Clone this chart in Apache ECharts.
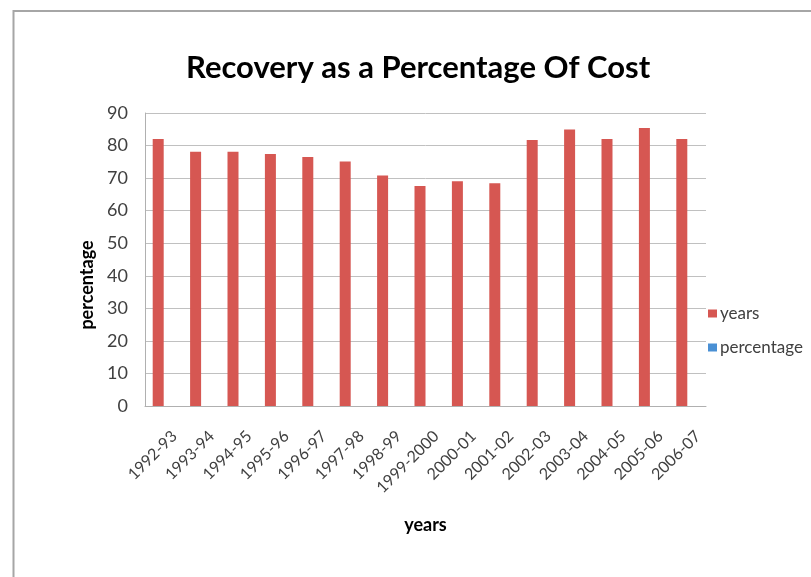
<!DOCTYPE html>
<html>
<head>
<meta charset="utf-8">
<script src="https://cdn.jsdelivr.net/npm/echarts@6/dist/echarts.min.js"></script>
<style>html,body{margin:0;padding:0;background:#fff;}#chart{width:811px;height:577px;}</style>
</head>
<body>
<div id="chart"></div>
<script>
const categories = ['1992-93','1993-94','1994-95','1995-96','1996-97','1997-98','1998-99','1999-2000','2000-01','2001-02','2002-03','2003-04','2004-05','2005-06','2006-07'];
const yearsValues = [82.0, 78.1, 78.1, 77.4, 76.5, 75.1, 70.8, 67.6, 69.0, 68.4, 81.7, 84.9, 82.0, 85.4, 82.0];
const percentageValues = [null, null, null, null, null, null, null, null, null, null, null, null, null, null, null];
const yTicks = [0, 10, 20, 30, 40, 50, 60, 70, 80, 90];

const chart = echarts.init(document.getElementById('chart'), null, {renderer: 'canvas'});
const FONT = 'Lato';
chart.setOption({
  animation: false,
  backgroundColor: '#ffffff',
  title: {
    text: 'Recovery as a Percentage Of Cost',
    left: 181,
    top: 47,
    textStyle: {fontFamily: FONT, fontSize: 31, fontWeight: 'bold', color: '#000000'}
  },
  legend: {
    orient: 'vertical',
    left: 703,
    top: 300,
    itemWidth: 9,
    itemHeight: 8,
    itemGap: 17,
    icon: 'rect',
    textStyle: {fontFamily: FONT, fontSize: 17, color: '#404040', padding: [0, 0, 0, -2]},
    data: ['years', 'percentage']
  },
  grid: {left: 145, right: 105, top: 113, bottom: 171, containLabel: false},
  xAxis: {
    type: 'category',
    data: categories,
    name: 'years',
    nameLocation: 'middle',
    nameGap: 110,
    nameTextStyle: {fontFamily: FONT, fontSize: 18, fontWeight: 'bold', color: '#000000'},
    axisLine: {lineStyle: {color: '#b0b0b0', width: 1}},
    axisTick: {show: false},
    axisLabel: {rotate: 45, fontFamily: FONT, fontSize: 16, color: '#404040', margin: 17, interval: 0, verticalAlign: 'top', padding: [7, 0, 0, 0]}
  },
  yAxis: {
    type: 'value',
    min: yTicks[0],
    max: yTicks[yTicks.length - 1],
    interval: 10,
    axisLine: {show: true, lineStyle: {color: '#b0b0b0', width: 1}},
    axisTick: {show: false},
    axisLabel: {fontFamily: FONT, fontSize: 18, color: '#404040', margin: 17},
    splitLine: {lineStyle: {color: '#c0c0c0', width: 1}}
  },
  series: [
    {name: 'years', type: 'bar', data: yearsValues, barWidth: 11, barGap: '0%', itemStyle: {color: '#d65752'}},
    {name: 'percentage', type: 'bar', data: percentageValues, barWidth: 11, itemStyle: {color: '#4a90d4'}}
  ],
  graphic: [
    {type: 'rect', shape: {x: 13.5, y: 11, width: 820, height: 600}, style: {fill: 'none', stroke: '#a6a6a6', lineWidth: 2}, silent: true},
    {type: 'text', x: 87, y: 285, rotation: Math.PI / 2, style: {text: 'percentage', fontFamily: FONT, fontSize: 18, fontWeight: 'bold', fill: '#000000', textAlign: 'center', textVerticalAlign: 'middle'}}
  ]
});
</script>
</body>
</html>
